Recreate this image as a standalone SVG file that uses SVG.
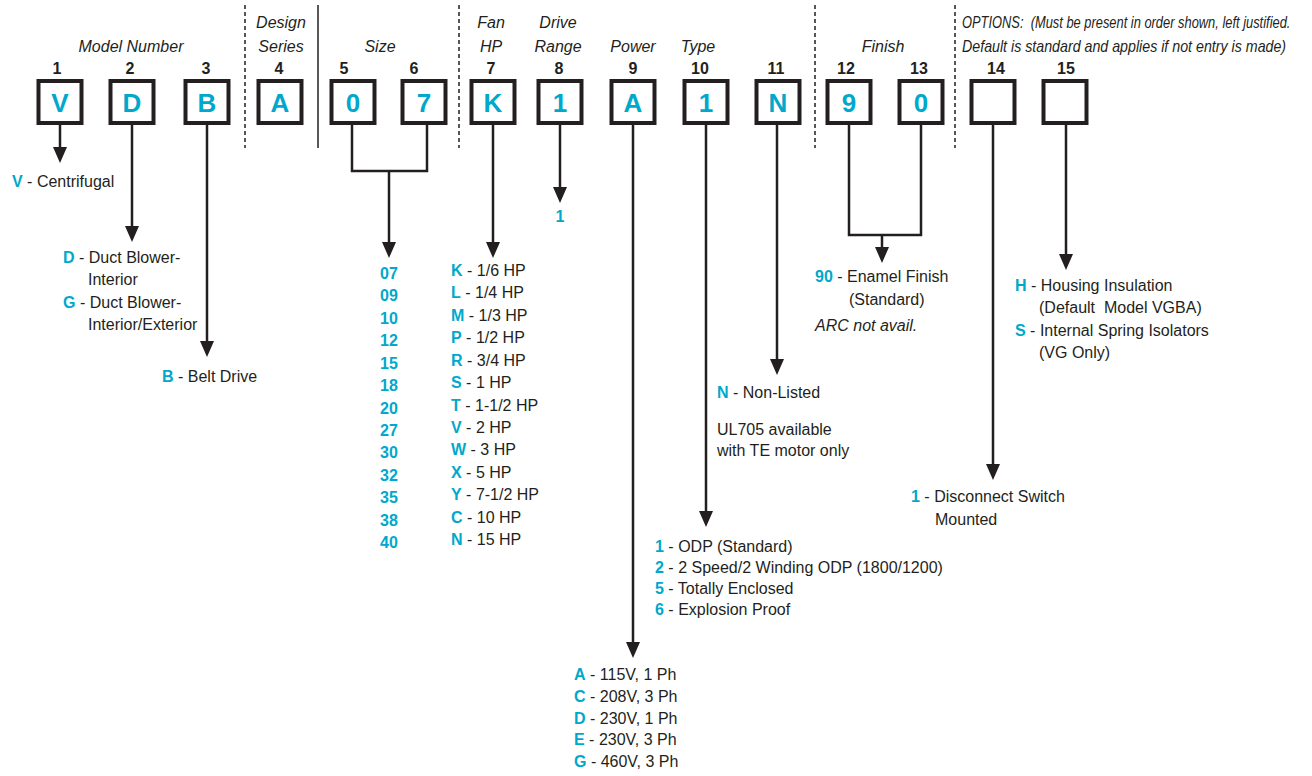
<svg xmlns="http://www.w3.org/2000/svg" width="1312" height="776" viewBox="0 0 1312 776">
<style>
.t{font-family:"Liberation Sans",Arial,sans-serif;font-size:16px;fill:#231f20}
.i{font-style:italic}
.m{text-anchor:middle}
.n{font-weight:bold;text-anchor:middle}
.c{fill:#00a8cb;font-weight:bold}
.bl{font-family:"Liberation Sans",Arial,sans-serif;font-size:26px;font-weight:bold;fill:#00a8cb;text-anchor:middle}
.box{fill:#fff;stroke:#231f20;stroke-width:4}
.sep{stroke:#231f20;stroke-width:1.5;fill:none}
.dash{stroke-dasharray:4 3}
.conn path{fill:none;stroke:#231f20;stroke-width:2.5}
.arr{marker-end:url(#ah)}
</style>
<defs>
<marker id="ah" markerUnits="userSpaceOnUse" markerWidth="16" markerHeight="14" viewBox="0 0 16 14" refX="12" refY="7" orient="auto"><path d="M0,0 L16,7 L0,14 Z" fill="#231f20"/></marker>
</defs>
<rect width="1312" height="776" fill="#fff"/>
<g id="separators">
<line class="sep dash" x1="245" y1="5" x2="245" y2="148"/>
<line class="sep" x1="318" y1="5" x2="318" y2="148"/>
<line class="sep dash" x1="459" y1="5" x2="459" y2="148"/>
<line class="sep dash" x1="815" y1="5" x2="815" y2="148"/>
<line class="sep dash" x1="955" y1="5" x2="955" y2="148"/>
</g>
<g id="headers">
<text class="t i m" x="131" y="52">Model Number</text>
<text class="t i m" x="281" y="28">Design</text>
<text class="t i m" x="281" y="52">Series</text>
<text class="t i m" x="380" y="52">Size</text>
<text class="t i m" x="491" y="28">Fan</text>
<text class="t i m" x="491" y="52">HP</text>
<text class="t i m" x="558" y="28">Drive</text>
<text class="t i m" x="558" y="52">Range</text>
<text class="t i m" x="633" y="52">Power</text>
<text class="t i m" x="698" y="52">Type</text>
<text class="t i m" x="883" y="52">Finish</text>
<g transform="translate(962,28) scale(0.805,1)"><text class="t i" x="0" y="0">OPTIONS:&#160; (Must be present in order shown, left justified.</text></g>
<g transform="translate(962,52) scale(0.89,1)"><text class="t i" x="0" y="0">Default is standard and applies if not entry is made)</text></g>
</g>
<g id="connectors" class="conn">
<path class="arr" d="M60,125 V159"/>
<path class="arr" d="M132,125 V238"/>
<path class="arr" d="M207,125 V353"/>
<path d="M352,125 V171 H427 V125"/>
<path class="arr" d="M389,171 V254"/>
<path class="arr" d="M493,125 V254"/>
<path class="arr" d="M560,125 V199"/>
<path class="arr" d="M633,125 V654"/>
<path class="arr" d="M706,125 V523"/>
<path class="arr" d="M777,125 V371"/>
<path d="M849,125 V235 H921 V125"/>
<path class="arr" d="M882,235 V259"/>
<path class="arr" d="M993,125 V476"/>
<path class="arr" d="M1066,125 V266"/>
</g>
<g id="box1"><rect class="box" x="38.5" y="81" width="43" height="42"/><text class="t n" x="57" y="74">1</text><text class="bl" x="60" y="112">V</text></g>
<g id="box2"><rect class="box" x="110.5" y="81" width="43" height="42"/><text class="t n" x="130" y="74">2</text><text class="bl" x="132" y="112">D</text></g>
<g id="box3"><rect class="box" x="185.5" y="81" width="43" height="42"/><text class="t n" x="206" y="74">3</text><text class="bl" x="207" y="112">B</text></g>
<g id="box4"><rect class="box" x="258.5" y="81" width="43" height="42"/><text class="t n" x="279" y="74">4</text><text class="bl" x="280" y="112">A</text></g>
<g id="box5"><rect class="box" x="331.5" y="81" width="43" height="42"/><text class="t n" x="344" y="74">5</text><text class="bl" x="353" y="112">0</text></g>
<g id="box6"><rect class="box" x="402.5" y="81" width="43" height="42"/><text class="t n" x="414" y="74">6</text><text class="bl" x="424" y="112">7</text></g>
<g id="box7"><rect class="box" x="471.5" y="81" width="43" height="42"/><text class="t n" x="491" y="74">7</text><text class="bl" x="493" y="112">K</text></g>
<g id="box8"><rect class="box" x="538.5" y="81" width="43" height="42"/><text class="t n" x="559" y="74">8</text><text class="bl" x="560" y="112">1</text></g>
<g id="box9"><rect class="box" x="611.5" y="81" width="43" height="42"/><text class="t n" x="633" y="74">9</text><text class="bl" x="633" y="112">A</text></g>
<g id="box10"><rect class="box" x="684.5" y="81" width="43" height="42"/><text class="t n" x="700" y="74">10</text><text class="bl" x="706" y="112">1</text></g>
<g id="box11"><rect class="box" x="756.5" y="81" width="43" height="42"/><text class="t n" x="776" y="74">11</text><text class="bl" x="778" y="112">N</text></g>
<g id="box12"><rect class="box" x="827.5" y="81" width="43" height="42"/><text class="t n" x="846" y="74">12</text><text class="bl" x="849" y="112">9</text></g>
<g id="box13"><rect class="box" x="899.5" y="81" width="43" height="42"/><text class="t n" x="919" y="74">13</text><text class="bl" x="921" y="112">0</text></g>
<g id="box14"><rect class="box" x="971.5" y="81" width="43" height="42"/><text class="t n" x="996" y="74">14</text></g>
<g id="box15"><rect class="box" x="1043.5" y="81" width="43" height="42"/><text class="t n" x="1066" y="74">15</text></g>
<g id="opt1">
<text class="t" x="12" y="187"><tspan class="c">V</tspan> - Centrifugal</text>
</g>
<g id="opt2">
<text class="t" x="63" y="263"><tspan class="c">D</tspan> - Duct Blower-</text>
<text class="t" x="88" y="285">Interior</text>
<text class="t" x="63" y="308"><tspan class="c">G</tspan> - Duct Blower-</text>
<text class="t" x="88" y="330">Interior/Exterior</text>
</g>
<g id="opt3">
<text class="t" x="162" y="382"><tspan class="c">B</tspan> - Belt Drive</text>
</g>
<g id="opt-size">
<text class="t c m" x="389" y="279">07</text>
<text class="t c m" x="389" y="301.4">09</text>
<text class="t c m" x="389" y="323.8">10</text>
<text class="t c m" x="389" y="346.3">12</text>
<text class="t c m" x="389" y="368.7">15</text>
<text class="t c m" x="389" y="391.1">18</text>
<text class="t c m" x="389" y="413.5">20</text>
<text class="t c m" x="389" y="435.9">27</text>
<text class="t c m" x="389" y="458.4">30</text>
<text class="t c m" x="389" y="480.8">32</text>
<text class="t c m" x="389" y="503.2">35</text>
<text class="t c m" x="389" y="525.6">38</text>
<text class="t c m" x="389" y="548">40</text>
</g>
<g id="opt-hp">
<text class="t" x="451" y="276"><tspan class="c">K</tspan> - 1/6 HP</text>
<text class="t" x="451" y="298.4"><tspan class="c">L</tspan> - 1/4 HP</text>
<text class="t" x="451" y="320.8"><tspan class="c">M</tspan> - 1/3 HP</text>
<text class="t" x="451" y="343.3"><tspan class="c">P</tspan> - 1/2 HP</text>
<text class="t" x="451" y="365.7"><tspan class="c">R</tspan> - 3/4 HP</text>
<text class="t" x="451" y="388.1"><tspan class="c">S</tspan> - 1 HP</text>
<text class="t" x="451" y="410.5"><tspan class="c">T</tspan> - 1-1/2 HP</text>
<text class="t" x="451" y="432.9"><tspan class="c">V</tspan> - 2 HP</text>
<text class="t" x="451" y="455.4"><tspan class="c">W</tspan> - 3 HP</text>
<text class="t" x="451" y="477.8"><tspan class="c">X</tspan> - 5 HP</text>
<text class="t" x="451" y="500.2"><tspan class="c">Y</tspan> - 7-1/2 HP</text>
<text class="t" x="451" y="522.6"><tspan class="c">C</tspan> - 10 HP</text>
<text class="t" x="451" y="545"><tspan class="c">N</tspan> - 15 HP</text>
</g>
<g id="opt-drive">
<text class="t c m" x="560" y="222">1</text>
</g>
<g id="opt-power">
<text class="t" x="574" y="680"><tspan class="c">A</tspan> - 115V, 1 Ph</text>
<text class="t" x="574" y="702"><tspan class="c">C</tspan> - 208V, 3 Ph</text>
<text class="t" x="574" y="724"><tspan class="c">D</tspan> - 230V, 1 Ph</text>
<text class="t" x="574" y="745"><tspan class="c">E</tspan> - 230V, 3 Ph</text>
<text class="t" x="574" y="767"><tspan class="c">G</tspan> - 460V, 3 Ph</text>
</g>
<g id="opt-type">
<text class="t" x="655" y="552"><tspan class="c">1</tspan> - ODP (Standard)</text>
<text class="t" x="655" y="573"><tspan class="c">2</tspan> - 2 Speed/2 Winding ODP (1800/1200)</text>
<text class="t" x="655" y="594"><tspan class="c">5</tspan> - Totally Enclosed</text>
<text class="t" x="655" y="615"><tspan class="c">6</tspan> - Explosion Proof</text>
</g>
<g id="opt-listing">
<text class="t" x="717" y="398"><tspan class="c">N</tspan> - Non-Listed</text>
<text class="t" x="717" y="435">UL705 available</text>
<text class="t" x="717" y="456">with TE motor only</text>
</g>
<g id="opt-finish">
<text class="t" x="815" y="282"><tspan class="c">90</tspan> - Enamel Finish</text>
<text class="t" x="849" y="305">(Standard)</text>
<text class="t i" x="815" y="331">ARC not avail.</text>
</g>
<g id="opt-14">
<text class="t" x="911" y="502"><tspan class="c">1</tspan> - Disconnect Switch</text>
<text class="t" x="935" y="525">Mounted</text>
</g>
<g id="opt-15">
<text class="t" x="1015" y="291"><tspan class="c">H</tspan> - Housing Insulation</text>
<text class="t" x="1039" y="313">(Default&#160; Model VGBA)</text>
<text class="t" x="1015" y="336"><tspan class="c">S</tspan> - Internal Spring Isolators</text>
<text class="t" x="1039" y="358">(VG Only)</text>
</g>
</svg>
